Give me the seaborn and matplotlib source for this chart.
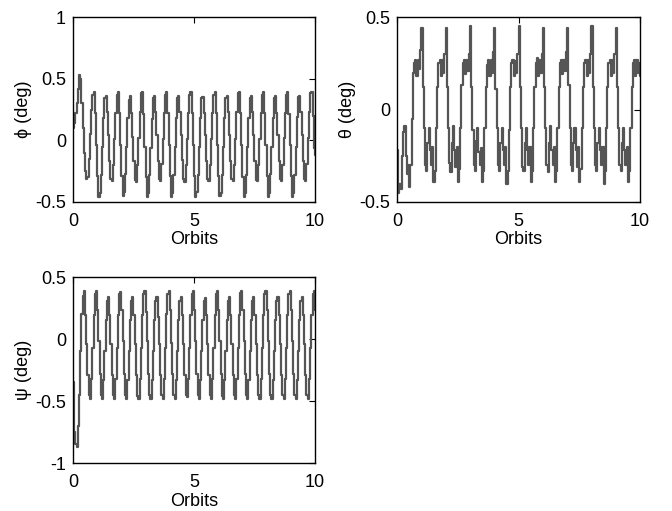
import numpy as np
import pandas as pd
import matplotlib
matplotlib.use("Agg")
import matplotlib.pyplot as plt
from matplotlib.ticker import FormatStrFormatter
import seaborn as sns

# sample step of the attitude signals (orbits)
dt = 0.05

# roll angle phi (deg), one row per orbit
phi = [
    0.10, 0.14, 0.22, 0.30, 0.42, 0.53, 0.50, 0.30, 0.10, -0.10, -0.25, -0.31, -0.30, -0.15, 0.05, 0.25, 0.37, 0.39, 0.22, -0.04,
    -0.29, -0.46, -0.43, -0.28, -0.05, 0.18, 0.34, 0.36, 0.23, 0.04, -0.17, -0.31, -0.33, -0.20, 0.01, 0.22, 0.37, 0.39, 0.22, -0.04,
    -0.29, -0.45, -0.42, -0.27, -0.05, 0.18, 0.33, 0.36, 0.22, 0.03, -0.17, -0.32, -0.34, -0.20, 0.02, 0.23, 0.38, 0.39, 0.21, -0.05,
    -0.30, -0.46, -0.43, -0.28, -0.06, 0.17, 0.34, 0.36, 0.23, 0.04, -0.17, -0.31, -0.33, -0.19, 0.01, 0.22, 0.37, 0.39, 0.22, -0.04,
    -0.29, -0.46, -0.43, -0.28, -0.05, 0.18, 0.34, 0.36, 0.23, 0.04, -0.16, -0.31, -0.34, -0.20, 0.01, 0.22, 0.37, 0.39, 0.22, -0.04,
    -0.29, -0.46, -0.42, -0.28, -0.05, 0.18, 0.34, 0.35, 0.22, 0.04, -0.17, -0.31, -0.33, -0.20, 0.01, 0.22, 0.37, 0.39, 0.22, -0.04,
    -0.29, -0.45, -0.43, -0.28, -0.05, 0.18, 0.34, 0.36, 0.23, 0.04, -0.17, -0.31, -0.33, -0.20, 0.01, 0.23, 0.38, 0.39, 0.22, -0.04,
    -0.30, -0.46, -0.43, -0.28, -0.05, 0.18, 0.34, 0.36, 0.23, 0.04, -0.17, -0.32, -0.33, -0.20, 0.01, 0.22, 0.37, 0.39, 0.22, -0.04,
    -0.29, -0.46, -0.43, -0.27, -0.05, 0.18, 0.34, 0.36, 0.22, 0.04, -0.17, -0.31, -0.33, -0.20, 0.02, 0.22, 0.37, 0.39, 0.21, -0.04,
    -0.29, -0.46, -0.43, -0.28, -0.05, 0.19, 0.35, 0.36, 0.23, 0.04, -0.17, -0.31, -0.33, -0.19, 0.02, 0.23, 0.38, 0.39, 0.20, -0.06,
    -0.12,
]

# pitch angle theta (deg)
theta = [
    -0.22, -0.45, -0.40, -0.43, -0.25, -0.12, -0.09, -0.25, -0.35, -0.30, -0.42, -0.30, -0.05, 0.20, 0.25, 0.27, 0.18, 0.27, 0.22, 0.32,
    0.44, 0.12, -0.10, -0.30, -0.33, -0.18, -0.10, -0.22, -0.30, -0.20, -0.39, -0.33, -0.10, 0.12, 0.25, 0.27, 0.18, 0.27, 0.20, 0.30,
    0.44, 0.12, -0.10, -0.29, -0.34, -0.18, -0.09, -0.22, -0.31, -0.20, -0.39, -0.32, -0.10, 0.13, 0.25, 0.27, 0.19, 0.27, 0.21, 0.30,
    0.45, 0.12, -0.11, -0.30, -0.33, -0.17, -0.10, -0.23, -0.30, -0.21, -0.39, -0.33, -0.10, 0.12, 0.24, 0.27, 0.18, 0.27, 0.20, 0.31,
    0.44, 0.11, -0.10, -0.30, -0.33, -0.18, -0.10, -0.22, -0.30, -0.20, -0.40, -0.33, -0.11, 0.12, 0.25, 0.27, 0.18, 0.26, 0.20, 0.30,
    0.45, 0.12, -0.10, -0.31, -0.33, -0.18, -0.10, -0.22, -0.30, -0.20, -0.39, -0.33, -0.10, 0.12, 0.25, 0.28, 0.18, 0.27, 0.20, 0.30,
    0.44, 0.12, -0.10, -0.30, -0.34, -0.18, -0.09, -0.22, -0.30, -0.20, -0.39, -0.33, -0.10, 0.12, 0.25, 0.27, 0.19, 0.27, 0.21, 0.31,
    0.44, 0.13, -0.10, -0.30, -0.33, -0.18, -0.10, -0.22, -0.31, -0.20, -0.39, -0.32, -0.10, 0.12, 0.25, 0.27, 0.18, 0.27, 0.20, 0.30,
    0.45, 0.12, -0.10, -0.30, -0.33, -0.18, -0.10, -0.22, -0.30, -0.20, -0.40, -0.33, -0.10, 0.12, 0.25, 0.27, 0.18, 0.27, 0.20, 0.30,
    0.44, 0.12, -0.10, -0.30, -0.33, -0.18, -0.10, -0.22, -0.30, -0.20, -0.39, -0.33, -0.10, 0.12, 0.25, 0.27, 0.18, 0.27, 0.20, 0.25,
    0.18,
]

# yaw angle psi (deg)
psi = [
    -0.35, -0.75, -0.85, -0.87, -0.70, -0.45, -0.10, 0.20, 0.35, 0.39, 0.19, -0.04, -0.29, -0.45, -0.48, -0.32, -0.07, 0.19, 0.36, 0.39,
    0.23, -0.02, -0.28, -0.45, -0.48, -0.33, -0.10, 0.15, 0.31, 0.34, 0.19, -0.04, -0.29, -0.45, -0.48, -0.32, -0.07, 0.19, 0.36, 0.38,
    0.23, -0.02, -0.28, -0.45, -0.48, -0.33, -0.10, 0.15, 0.31, 0.34, 0.19, -0.04, -0.29, -0.46, -0.48, -0.32, -0.07, 0.19, 0.36, 0.39,
    0.22, -0.02, -0.28, -0.45, -0.48, -0.33, -0.10, 0.15, 0.31, 0.34, 0.18, -0.04, -0.29, -0.45, -0.48, -0.32, -0.07, 0.20, 0.36, 0.39,
    0.23, -0.03, -0.28, -0.45, -0.48, -0.33, -0.10, 0.15, 0.31, 0.34, 0.19, -0.04, -0.29, -0.45, -0.47, -0.32, -0.07, 0.19, 0.36, 0.39,
    0.23, -0.02, -0.28, -0.45, -0.48, -0.33, -0.10, 0.15, 0.31, 0.33, 0.19, -0.04, -0.29, -0.45, -0.48, -0.32, -0.07, 0.19, 0.36, 0.39,
    0.23, -0.02, -0.28, -0.46, -0.48, -0.33, -0.10, 0.15, 0.31, 0.34, 0.19, -0.04, -0.29, -0.45, -0.48, -0.32, -0.07, 0.19, 0.37, 0.39,
    0.23, -0.02, -0.28, -0.45, -0.48, -0.33, -0.10, 0.15, 0.31, 0.34, 0.19, -0.04, -0.29, -0.45, -0.48, -0.32, -0.07, 0.19, 0.36, 0.39,
    0.23, -0.02, -0.28, -0.45, -0.48, -0.33, -0.10, 0.15, 0.31, 0.34, 0.19, -0.04, -0.29, -0.45, -0.48, -0.32, -0.07, 0.19, 0.36, 0.39,
    0.23, -0.02, -0.28, -0.45, -0.48, -0.33, -0.10, 0.15, 0.31, 0.34, 0.19, -0.04, -0.29, -0.45, -0.48, -0.32, -0.07, 0.19, 0.36, 0.39,
    0.23,
]

x_ticks = [0, 5, 10]
panels = [
    # (series, label, y limits, y ticks, axes rect)
    (phi, "ϕ (deg)", (-0.5, 1.0), [-0.5, 0, 0.5, 1], [0.1086, 0.6047, 0.3601, 0.3620]),
    (theta, "θ (deg)", (-0.5, 0.5), [-0.5, 0, 0.5], [0.5908, 0.6047, 0.3616, 0.3620]),
    (psi, "ψ (deg)", (-1.0, 0.5), [-1, -0.5, 0, 0.5], [0.1086, 0.0939, 0.3601, 0.3640]),
]

sns.set_style("white")
plt.rcParams['font.family'] = ['Liberation Sans', 'DejaVu Sans']
plt.rcParams['axes.unicode_minus'] = False
plt.rcParams['axes.labelcolor'] = 'black'
plt.rcParams['text.color'] = 'black'

fig = plt.figure(figsize=(6.72, 5.11), dpi=100)

for values, label, ylim, yticks, rect in panels:
    df = pd.DataFrame({"Orbits": np.arange(len(values)) * dt, "value": values})
    ax = fig.add_axes(rect)
    sns.lineplot(data=df, x="Orbits", y="value", ax=ax, estimator=None, sort=False,
                 drawstyle="steps-post", color="#555555", linewidth=1.6)
    ax.set_xlim(0, 10)
    ax.set_ylim(*ylim)
    ax.set_xticks(x_ticks)
    ax.set_yticks(yticks)
    ax.xaxis.set_major_formatter(FormatStrFormatter('%g'))
    ax.yaxis.set_major_formatter(FormatStrFormatter('%g'))
    ax.set_xlabel("Orbits", fontsize=13, labelpad=1, color="black")
    ax.set_ylabel(label, fontsize=13, labelpad=2, color="black")
    ax.tick_params(direction="in", top=True, right=True, length=4, width=0.8,
                   labelsize=13, colors="black")
    ax.tick_params(axis="x", pad=8)
    ax.tick_params(axis="y", pad=5)
    for side in ax.spines.values():
        side.set_color("black")
        side.set_linewidth(1.0)

fig.savefig("out.png", dpi=100)
